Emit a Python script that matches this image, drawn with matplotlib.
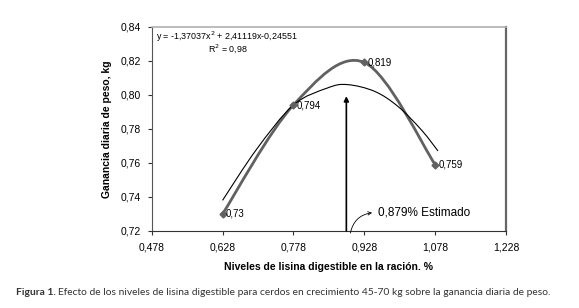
import matplotlib
matplotlib.use("Agg")
import matplotlib.pyplot as plt
from matplotlib.path import Path
from matplotlib.patches import PathPatch
import numpy as np

# Data
lisina = [0.628, 0.778, 0.928, 1.078]
ganancia = [0.73, 0.794, 0.819, 0.759]
etiquetas = ["0,73", "0,794", "0,819", "0,759"]

# Trend line as drawn in the picture (read points)
trend_x = [0.628, 0.70, 0.778, 0.85, 0.892, 0.95, 1.00, 1.05, 1.084]
trend_y = [0.738, 0.768, 0.794, 0.804, 0.806, 0.802, 0.793, 0.779, 0.767]

x_ticks = [0.478, 0.628, 0.778, 0.928, 1.078, 1.228]
x_ticklabels = ["0,478", "0,628", "0,778", "0,928", "1,078", "1,228"]
y_ticks = [0.72, 0.74, 0.76, 0.78, 0.80, 0.82, 0.84]
y_ticklabels = ["0,72", "0,74", "0,76", "0,78", "0,80", "0,82", "0,84"]

estimado = 0.89  # where the arrow is drawn

narrow = ["Liberation Sans Narrow", "Liberation Sans", "DejaVu Sans"]


def smooth_path(xs, ys):
    # Excel style smoothed line: cubic bezier, catmull-rom control points
    pts = list(zip(xs, ys))
    n = len(pts)
    verts = [pts[0]]
    codes = [Path.MOVETO]
    for i in range(n - 1):
        p0 = np.array(pts[i - 1] if i > 0 else pts[i])
        p1 = np.array(pts[i])
        p2 = np.array(pts[i + 1])
        p3 = np.array(pts[i + 2] if i + 2 < n else pts[i + 1])
        c1 = p1 + (p2 - p0) / 6
        c2 = p2 - (p3 - p1) / 6
        verts += [tuple(c1), tuple(c2), tuple(p2)]
        codes += [Path.CURVE4] * 3
    return Path(verts, codes)


fig = plt.figure(figsize=(5.79, 3.08), dpi=100)
ax = fig.add_axes([0.262, 0.25, 0.612, 0.6633])

ax.add_patch(PathPatch(smooth_path(lisina, ganancia), fill=False,
                       edgecolor="#616161", lw=2.0, capstyle="round"))
ax.plot(lisina, ganancia, linestyle="none", marker="D", markersize=3.5,
        color="#616161")
ax.add_patch(PathPatch(smooth_path(trend_x, trend_y), fill=False,
                       edgecolor="black", lw=0.8))

for x, y, t in zip(lisina, ganancia, etiquetas):
    ax.annotate(t, (x, y), xytext=(2.5, 0), textcoords="offset points",
                ha="left", va="center", fontsize=7, family=narrow)

ax.annotate("", xy=(estimado, 0.7992), xytext=(estimado, 0.72),
            arrowprops=dict(arrowstyle="-|>", color="black", lw=1.2,
                            mutation_scale=7, shrinkA=0, shrinkB=0),
            annotation_clip=False)
ax.annotate("", xy=(0.9445, 0.7307), xytext=(0.8985, 0.7188),
            arrowprops=dict(arrowstyle="->", color="black", lw=0.6,
                            mutation_scale=6, shrinkA=0, shrinkB=0,
                            connectionstyle="arc3,rad=-0.35"),
            annotation_clip=False)
ax.text(0.958, 0.7307, "0,879% Estimado", ha="left", va="center",
        fontsize=8.5, family=narrow)

ax.text(0.638, 0.8343, "y = -1,37037x$^{2}$ + 2,41119x-0,24551",
        ha="center", va="center", fontsize=6.4, family=narrow)
ax.text(0.640, 0.8272, "R$^{2}$ = 0,98", ha="center", va="center",
        fontsize=6.4, family=narrow)

ax.set_xlim(0.478, 1.228)
ax.set_ylim(0.72, 0.84)
ax.set_xticks(x_ticks)
ax.set_xticklabels(x_ticklabels, family=narrow, fontsize=7.5)
ax.set_yticks(y_ticks)
ax.set_yticklabels(y_ticklabels, family=narrow, fontsize=7.5)
ax.tick_params(axis="both", direction="out", length=3, width=0.8, pad=5,
               colors="#333333", labelcolor="black")

ax.spines["left"].set_color("#555555")
ax.spines["bottom"].set_color("#333333")
ax.spines["top"].set_color("#b0b0b0")
ax.spines["right"].set_color("#666666")
ax.spines["right"].set_linewidth(1.6)
ax.spines["top"].set_linewidth(1.2)

ax.set_xlabel("Niveles de lisina digestible en la ración. %", family=narrow,
              fontsize=7.5, fontweight="bold", labelpad=7)
ax.set_ylabel("Ganancia diaria de peso, kg", family=narrow, fontsize=7.5,
              fontweight="bold", labelpad=6)

# caption: bold "Figura 1." followed by the rest
cap_size = 7.4
t1 = fig.text(0.028, 0.049, "Figura 1.", ha="left", va="center",
              fontsize=cap_size, family="Lato", fontweight="bold",
              color="#333333")
fig.canvas.draw()
bb = t1.get_window_extent().transformed(fig.transFigure.inverted())
fig.text(bb.x1 + 0.004, 0.049,
         "Efecto de los niveles de lisina digestible para cerdos en crecimiento "
         "45-70 kg sobre la ganancia diaria de peso.",
         ha="left", va="center", fontsize=cap_size, family="Lato",
         color="#333333")

fig.savefig("out.png", dpi=100)
